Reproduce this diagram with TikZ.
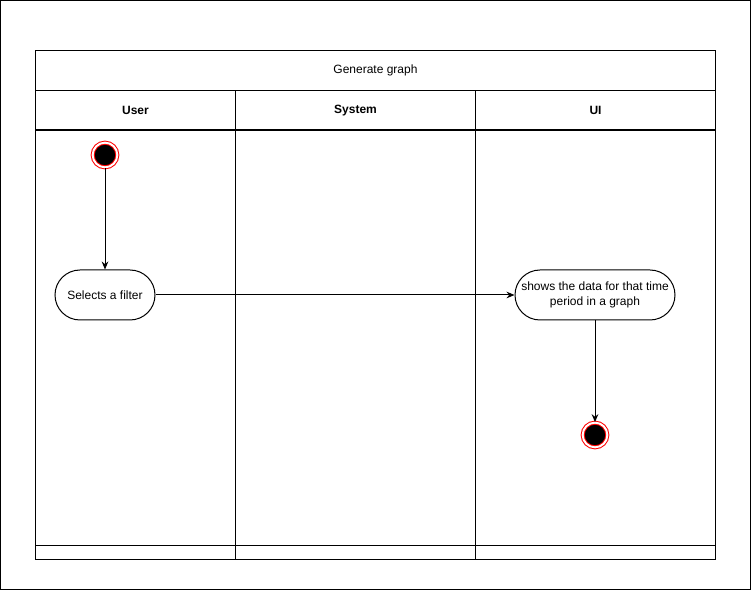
\documentclass[tikz,border=0pt]{standalone}
\usepackage{fontspec}
\setmainfont{Liberation Sans}
\usepackage{tikz}
\usetikzlibrary{positioning,arrows.meta}

\begin{document}
\begin{tikzpicture}[x=0.75pt,y=-0.75pt,font=\fontsize{9}{11}\selectfont,
    lane/.style={draw,line width=0.75pt,minimum height=30pt,inner sep=0pt,font=\fontsize{9}{11}\selectfont\bfseries},
    action/.style={draw,rounded corners=18.75pt,line width=0.75pt,minimum width=75pt,minimum height=37.5pt,inner sep=1pt,align=center},
    startnode/.style={circle,draw=red,fill=black,line width=0.75pt,minimum size=18.5pt,inner sep=0pt,double=white,double distance=1.5pt},
    flow/.style={-{Stealth[length=6pt,width=5pt]},line width=0.75pt}]
  \useasboundingbox (0,0) rectangle (751,591);
  \draw[line width=0.75pt] (0.5,0.5) rectangle (750,590);
  % pool and lanes
  \node[lane,minimum width=510pt,font=\fontsize{9}{11}\selectfont,anchor=north west](pool) at (35,50){Generate graph};
  \node[lane,minimum width=150pt,anchor=north west](user) at (35,90){User};
  \node[lane,minimum width=180pt,anchor=north west](system) at (235,90){System};
  \node[lane,minimum width=180pt,anchor=north west](ui) at (475,90){UI};
  \draw[line width=0.75pt] (35,130) rectangle (235,560);
  \draw[line width=0.75pt] (235,130) rectangle (475,560);
  \draw[line width=0.75pt] (475,130) rectangle (715,560);
  \draw[line width=0.75pt] (35,546) -- (715,546);
  % activity
  \node[startnode](start) at (105,155){};
  \node[action](filter) at (105,295){Selects a filter};
  \node[action,minimum width=120pt](show) at (595,295){shows the data for that time\\period in a graph};
  \node[startnode](end) at (595,435){};
  \draw[flow] (start) -- (filter);
  \draw[flow] (filter) -- (show);
  \draw[flow] (show) -- (end);
\end{tikzpicture}
\end{document}
